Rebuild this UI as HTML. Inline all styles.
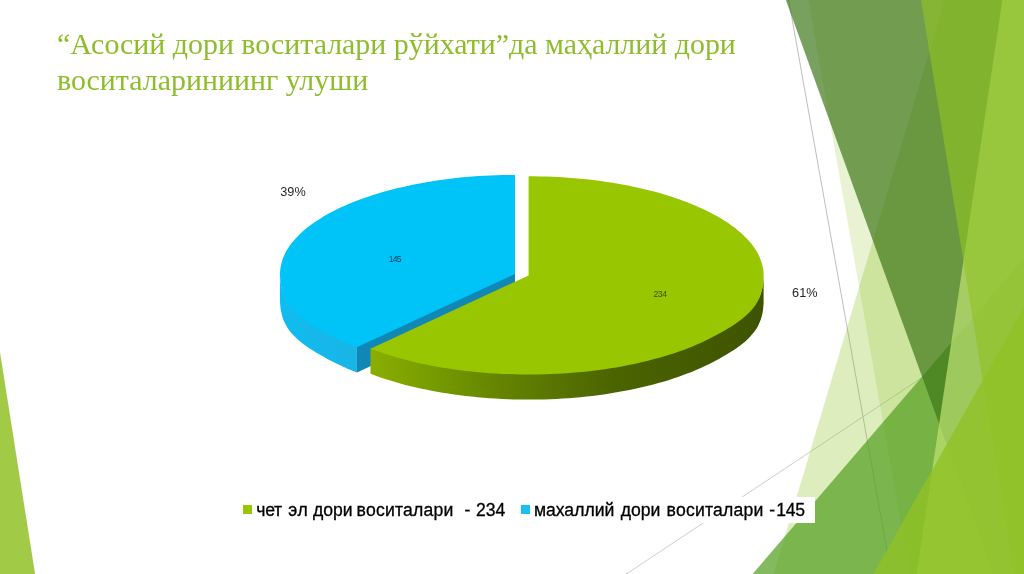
<!DOCTYPE html>
<html lang="uz"><head><meta charset="utf-8"><title>Slide</title>
<style>
html,body{margin:0;padding:0;background:#fff;}
body{width:1024px;height:574px;overflow:hidden;position:relative;font-family:"Liberation Sans",sans-serif;}
#bg{position:absolute;left:0;top:0;}
#title{position:absolute;left:57px;top:25.6px;margin:0;width:760px;font-family:"Liberation Serif",serif;font-weight:normal;font-size:29.9px;line-height:36px;color:#8EBD2B;white-space:nowrap;}
.lbl{position:absolute;font-size:12.7px;line-height:13px;letter-spacing:0.05px;color:#262626;white-space:nowrap;}
.sm{position:absolute;font-size:8.6px;line-height:8px;letter-spacing:-0.5px;white-space:nowrap;}
#legend{position:absolute;left:237px;top:496.5px;width:578px;height:26px;background:#fff;font-size:17.6px;line-height:26px;color:#000;white-space:nowrap;}
#legend span.m{position:absolute;top:8.6px;width:9.2px;height:9.2px;}
#legend span.t{position:absolute;top:0.1px;white-space:pre;-webkit-text-stroke:0.3px #000;}
#legend span.w{letter-spacing:0.2px;}
#legend span.n{letter-spacing:-0.35px;}
</style></head><body>
<svg id="bg" width="1024" height="574" viewBox="0 0 1024 574">
<defs>
<linearGradient id="gbw" gradientUnits="userSpaceOnUse" x1="280" y1="0" x2="360" y2="0"><stop offset="0" stop-color="#10BCEF"/><stop offset="1" stop-color="#1AB4E6"/></linearGradient>
<linearGradient id="ggw" gradientUnits="userSpaceOnUse" x1="370" y1="0" x2="764" y2="0"><stop offset="0" stop-color="#8AAE00"/><stop offset="0.165" stop-color="#769B00"/><stop offset="0.29" stop-color="#688900"/><stop offset="0.48" stop-color="#577300"/><stop offset="0.62" stop-color="#4B6400"/><stop offset="1" stop-color="#3E5300"/></linearGradient>
</defs>
<line x1="788.44" y1="-1.43" x2="891.35" y2="575.43" stroke="#BDBDC4" stroke-width="1"/>
<line x1="1026.29" y1="308.23" x2="624.20" y2="575.43" stroke="#CDCDCD" stroke-width="1"/>
<polygon points="945.11,-1.43 1026.56,-1.43 1026.56,575.43 773.24,575.43" fill="#90C226" fill-opacity="0.30"/>
<polygon points="808.06,-1.43 1026.56,-1.43 1026.56,575.43 910.15,575.43" fill="#90C226" fill-opacity="0.20"/>
<polygon points="1026.56,254.95 751.41,575.43 1026.56,575.43" fill="#54A021" fill-opacity="0.72"/>
<polygon points="785.36,-1.43 1026.56,-1.43 1026.56,575.43 993.91,575.43" fill="#3F7819" fill-opacity="0.70"/>
<polygon points="1002.57,-1.43 1026.56,-1.43 1026.56,575.43 916.50,575.43" fill="#C0E474" fill-opacity="0.70"/>
<polygon points="920.79,-1.43 1026.56,-1.43 1026.56,575.43 1014.44,575.43" fill="#90C226" fill-opacity="0.65"/>
<polygon points="1030.00,296.36 871.25,578.00 1030.00,578.00" fill="#90C226" fill-opacity="0.80"/>
<polygon points="-2.56,336.14 -2.56,575.43 35.32,575.43" fill="#90C226" fill-opacity="0.85"/>
<polygon points="280.0,273.0 280.0,275.6 280.2,278.2 280.4,280.7 280.7,283.3 281.2,285.9 281.8,288.5 282.5,291.1 283.4,293.6 284.5,296.2 285.8,298.7 287.3,301.3 289.0,303.8 290.9,306.3 293.0,308.7 295.4,311.1 297.9,313.5 300.7,315.8 303.6,318.1 306.7,320.4 310.0,322.6 313.4,324.7 316.9,326.9 320.5,329.0 324.2,331.0 327.9,333.1 331.8,335.1 335.7,337.1 339.7,339.0 343.8,340.9 348.1,342.8 352.5,344.6 356.9,346.3 356.9,372.4 352.5,370.7 348.1,368.9 343.8,367.0 339.7,365.1 335.7,363.2 331.8,361.2 327.9,359.2 324.2,357.1 320.5,355.1 316.9,353.0 313.4,350.8 310.0,348.7 306.7,346.5 303.6,344.2 300.7,341.9 297.9,339.6 295.4,337.2 293.0,334.8 290.9,332.4 289.0,329.9 287.3,327.4 285.8,324.8 284.5,322.3 283.4,319.7 282.5,317.2 281.8,314.6 281.2,312.0 280.7,309.4 280.4,306.8 280.2,304.3 280.0,301.7 280.0,299.1" fill="url(#gbw)"/>
<polygon points="515.0,273.0 356.9,346.3 356.9,372.4 515.0,299.1" fill="#1187B5"/>
<polygon points="515.0,274.0 515.0,174.9 508.9,174.9 502.7,175.0 496.6,175.2 490.5,175.4 484.4,175.7 478.3,176.1 472.3,176.6 466.2,177.1 460.2,177.6 454.3,178.3 448.4,179.0 442.5,179.7 436.7,180.6 430.9,181.5 425.2,182.4 419.6,183.4 414.0,184.5 408.5,185.7 403.1,186.9 397.7,188.1 392.4,189.4 387.2,190.8 382.1,192.3 377.1,193.8 372.2,195.3 367.4,196.9 362.6,198.6 358.0,200.3 353.5,202.0 349.1,203.8 344.8,205.7 340.6,207.6 336.6,209.5 332.6,211.5 328.8,213.5 325.1,215.6 321.6,217.7 318.2,219.9 314.9,222.1 311.7,224.3 308.7,226.5 305.8,228.8 303.1,231.1 300.5,233.5 298.1,235.9 295.8,238.3 293.7,240.7 291.7,243.1 289.8,245.6 288.2,248.1 286.6,250.6 285.3,253.1 284.1,255.7 283.0,258.2 282.1,260.8 281.4,263.4 280.8,265.9 280.4,268.5 280.1,271.1 280.0,273.7 280.0,276.3 280.2,278.9 280.4,281.5 280.7,284.1 281.2,286.6 281.7,289.2 282.5,291.8 283.3,294.4 284.4,297.0 285.7,299.5 287.2,302.1 288.8,304.6 290.8,307.1 292.9,309.5 295.2,312.0 297.8,314.4 300.5,316.7 303.5,319.0 306.6,321.3 309.8,323.5 313.2,325.7 316.7,327.8 320.4,329.9 324.1,332.0 327.8,334.0 331.7,336.0 335.6,338.0 339.7,340.0 343.8,341.9 348.1,343.8 352.4,345.6 356.9,347.3" fill="#00C3F7"/>
<polygon points="370.5,347.7 375.1,349.4 379.8,351.1 384.5,352.7 389.4,354.2 394.4,355.7 399.4,357.2 404.5,358.6 409.8,359.9 415.1,361.2 420.4,362.4 425.9,363.5 431.4,364.6 437.0,365.7 442.6,366.6 448.3,367.5 454.1,368.4 459.9,369.2 465.7,369.9 471.6,370.5 477.6,371.1 483.5,371.7 489.5,372.1 495.5,372.5 501.6,372.8 507.6,373.1 513.7,373.3 519.8,373.4 525.9,373.5 532.0,373.5 538.1,373.4 544.2,373.3 550.3,373.1 556.3,372.8 562.4,372.5 568.4,372.1 574.4,371.6 580.3,371.1 586.3,370.5 592.2,369.8 598.0,369.1 603.8,368.3 609.6,367.4 615.2,366.5 620.9,365.5 626.5,364.5 632.0,363.4 637.4,362.2 642.8,361.0 648.1,359.7 653.3,358.4 658.4,357.0 663.4,355.6 668.4,354.1 673.2,352.5 678.0,350.9 682.6,349.2 687.2,347.5 691.6,345.8 696.0,344.0 700.2,342.1 704.3,340.2 708.3,338.3 712.2,336.3 716.0,334.3 719.7,332.3 723.4,330.2 727.0,328.1 730.5,326.0 733.9,323.8 737.1,321.6 740.2,319.4 743.1,317.1 745.8,314.8 748.4,312.4 750.7,310.0 752.8,307.5 754.7,305.1 756.4,302.6 757.9,300.1 759.1,297.5 760.2,295.0 761.1,292.4 761.8,289.8 762.4,287.3 762.9,284.7 763.2,282.1 763.4,279.5 763.6,277.0 763.6,274.4 763.6,300.5 763.6,303.1 763.4,305.6 763.2,308.2 762.9,310.8 762.4,313.4 761.8,315.9 761.1,318.5 760.2,321.1 759.1,323.6 757.9,326.2 756.4,328.7 754.7,331.2 752.8,333.6 750.7,336.1 748.4,338.5 745.8,340.9 743.1,343.2 740.2,345.5 737.1,347.7 733.9,349.9 730.5,352.1 727.0,354.2 723.4,356.3 719.7,358.4 716.0,360.4 712.2,362.4 708.3,364.4 704.3,366.3 700.2,368.2 696.0,370.1 691.6,371.9 687.2,373.6 682.6,375.3 678.0,377.0 673.2,378.6 668.4,380.2 663.4,381.7 658.4,383.1 653.3,384.5 648.1,385.8 642.8,387.1 637.4,388.3 632.0,389.5 626.5,390.6 620.9,391.6 615.2,392.6 609.6,393.5 603.8,394.4 598.0,395.2 592.2,395.9 586.3,396.6 580.3,397.2 574.4,397.7 568.4,398.2 562.4,398.6 556.3,398.9 550.3,399.2 544.2,399.4 538.1,399.5 532.0,399.6 525.9,399.6 519.8,399.5 513.7,399.4 507.6,399.2 501.6,398.9 495.5,398.6 489.5,398.2 483.5,397.8 477.6,397.2 471.6,396.6 465.7,396.0 459.9,395.3 454.1,394.5 448.3,393.6 442.6,392.7 437.0,391.8 431.4,390.7 425.9,389.6 420.4,388.5 415.1,387.3 409.8,386.0 404.5,384.7 399.4,383.3 394.4,381.8 389.4,380.3 384.5,378.8 379.8,377.2 375.1,375.5 370.5,373.8" fill="url(#ggw)"/>
<polygon points="528.6,275.4 370.5,348.7 375.1,350.4 379.8,352.1 384.6,353.7 389.5,355.3 394.4,356.8 399.5,358.2 404.7,359.6 409.9,360.9 415.2,362.2 420.6,363.4 426.1,364.6 431.6,365.7 437.2,366.7 442.9,367.7 448.6,368.6 454.4,369.4 460.2,370.2 466.1,370.9 472.0,371.6 478.0,372.2 484.0,372.7 490.0,373.2 496.1,373.5 502.1,373.9 508.2,374.1 514.3,374.3 520.4,374.4 526.5,374.5 532.7,374.5 538.8,374.4 544.9,374.3 551.0,374.0 557.1,373.8 563.1,373.4 569.2,373.0 575.2,372.5 581.2,372.0 587.1,371.4 593.0,370.7 598.9,370.0 604.7,369.2 610.5,368.3 616.2,367.4 621.8,366.4 627.4,365.3 632.9,364.2 638.4,363.0 643.7,361.8 649.0,360.5 654.2,359.1 659.4,357.7 664.4,356.3 669.3,354.8 674.2,353.2 679.0,351.6 683.6,349.9 688.1,348.2 692.6,346.4 696.9,344.6 701.1,342.7 705.2,340.8 709.2,338.8 713.1,336.8 716.9,334.8 720.7,332.8 724.3,330.7 727.9,328.6 731.4,326.4 734.7,324.3 737.9,322.0 741.0,319.8 743.8,317.5 746.5,315.1 749.0,312.7 751.3,310.3 753.4,307.8 755.2,305.4 756.8,302.8 758.2,300.3 759.5,297.8 760.5,295.2 761.3,292.6 762.0,290.0 762.6,287.4 763.0,284.9 763.3,282.3 763.5,279.7 763.6,277.1 763.6,274.5 763.5,272.0 763.2,269.4 762.7,266.8 762.1,264.2 761.3,261.7 760.4,259.1 759.3,256.6 758.1,254.1 756.7,251.6 755.1,249.1 753.4,246.6 751.6,244.1 749.6,241.7 747.4,239.3 745.1,236.9 742.7,234.5 740.1,232.2 737.3,229.9 734.5,227.6 731.4,225.4 728.3,223.1 725.0,221.0 721.6,218.8 718.0,216.7 714.3,214.7 710.5,212.7 706.6,210.7 702.5,208.8 698.3,206.9 694.0,205.0 689.6,203.2 685.1,201.5 680.5,199.8 675.8,198.2 671.0,196.6 666.1,195.0 661.1,193.5 656.0,192.1 650.8,190.7 645.5,189.4 640.2,188.2 634.7,187.0 629.2,185.8 623.7,184.8 618.1,183.8 612.4,182.8 606.6,181.9 600.8,181.1 595.0,180.3 589.1,179.6 583.2,179.0 577.2,178.4 571.2,177.9 565.2,177.5 559.1,177.1 553.0,176.8 546.9,176.6 540.8,176.4 534.7,176.3 528.6,176.3" fill="#98C600"/>
</svg>
<h1 id="title">“Асосий дори воситалари рўйхати”да маҳаллий дори<br>воситалариниинг улуши</h1>
<div class="lbl" style="left:280.2px;top:186.3px;">39%</div>
<div class="lbl" style="left:792.1px;top:287.0px;">61%</div>
<div class="sm" style="left:388.7px;top:254.6px;color:#05435c;letter-spacing:-0.75px;">145</div>
<div class="sm" style="left:653.6px;top:290.4px;color:#385200;">234</div>
<div id="legend"><span class="m" style="left:6.2px;background:#98C600"></span><span class="t" style="left:19.35px;letter-spacing:-0.35px;">чет </span><span class="t" style="left:51.30px;letter-spacing:0.7px;">эл </span><span class="t" style="left:75.90px;">дори </span><span class="t w" style="left:119.60px;">воситалари </span><span class="t" style="left:222.70px;">&nbsp;- </span><span class="t" style="left:238.90px;">234</span><span class="m" style="left:283.8px;background:#1ABEF0"></span><span class="t" style="left:296.90px;">махаллий </span><span class="t" style="left:383.75px;">дори </span><span class="t w" style="left:429.60px;">воситалари </span><span class="t" style="left:532.25px;">-</span><span class="t n" style="left:539.30px;">145</span></div>
</body></html>
